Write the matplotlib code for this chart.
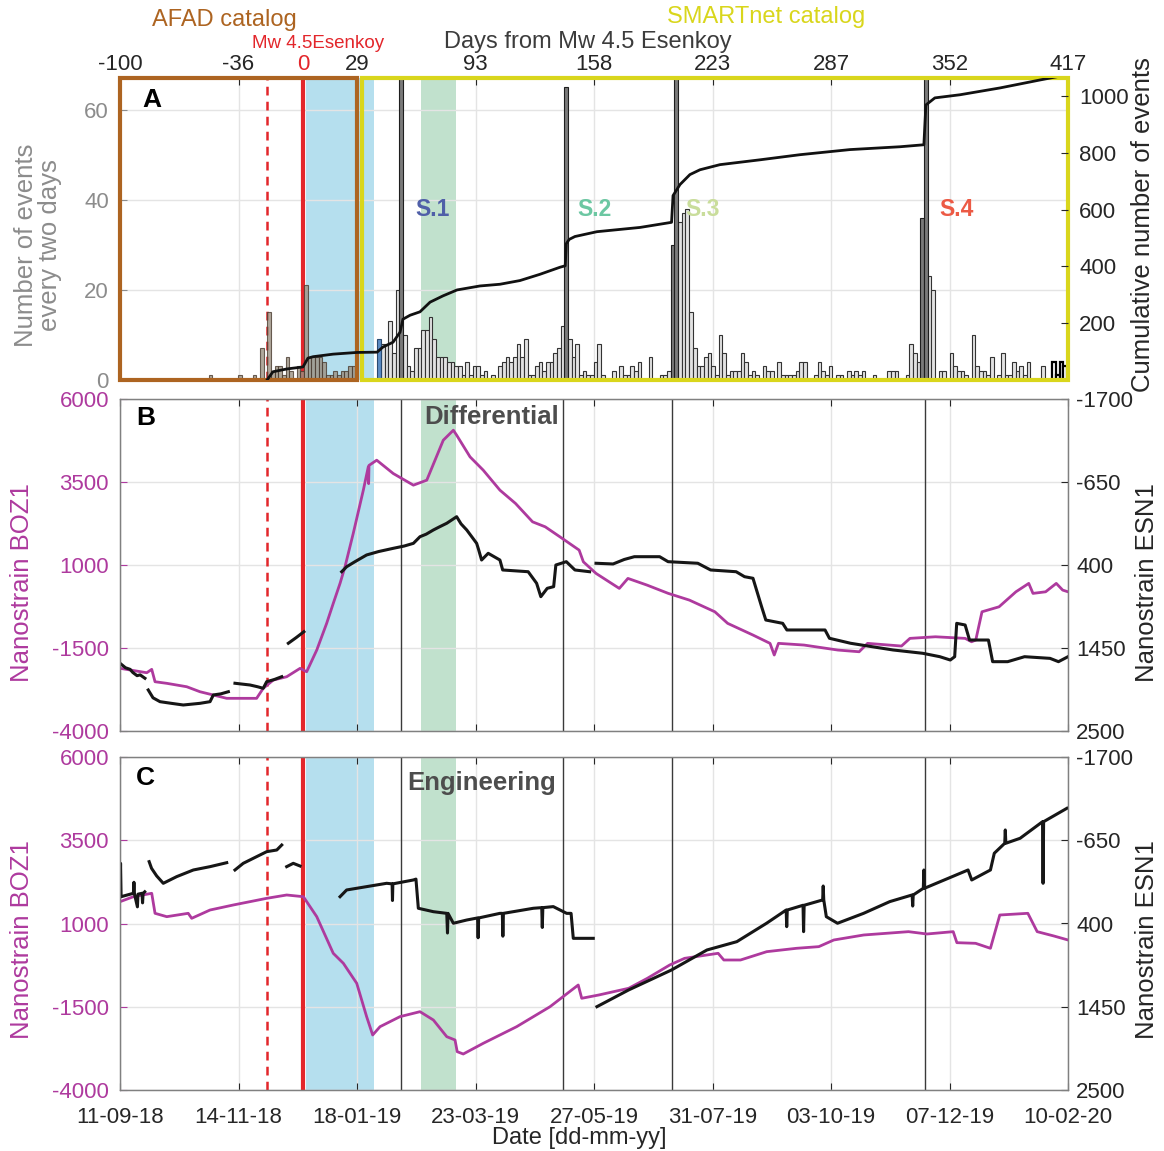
import numpy as np
import matplotlib.pyplot as plt
from matplotlib.patches import Rectangle
from matplotlib.transforms import blended_transform_factory

plt.rcParams['font.family'] = ['Liberation Sans', 'DejaVu Sans']
plt.rcParams['axes.unicode_minus'] = False

nan = np.nan

# time axis: days since 11-09-18, Mw 4.5 Esenkoy on day 100
date_labels = ['11-09-18', '14-11-18', '18-01-19', '23-03-19', '27-05-19',
               '31-07-19', '03-10-19', '07-12-19', '10-02-20']
rel_labels = ['-100', '-36', '29', '93', '158', '223', '287', '352', '417']
date_ticks = list(np.linspace(0, 517, 9))
eq_day = 100.0
fore_day = 80.2
post_span = (101.4, 138.5)
green_span = (164.1, 183.2)
swarm_days = [153.2, 241.6, 301.0, 439.0]
swarm_names = ['S.1', 'S.2', 'S.3', 'S.4']
swarm_colors = ['#4f5fa8', '#6cc7a2', '#c9dd9b', '#ec5a45']

# histogram: 2-day bins, bin k starts at BIN0 + 2k
BIN0 = 140.4
afad_bin = [-46, -38, -34, -32, -30, -29, -28, -27, -26, -25, -24, -22, -21,
            -20, -19, -18, -17, -16, -15, -14, -13, -12, -11, -10, -9, -8, -7]
afad_cnt = [1, 1, 1, 7, 15, 2, 3, 3, 1, 5, 2, 3, 2,
            21, 5, 5, 5, 5, 4, 1, 1, 2, 1, 2, 2, 3, 3]
smart_bin = [1, 2, 3, 4, 5, 7, 8, 9, 10, 11,
             12, 13, 14, 15, 16, 17, 18, 19, 20, 21,
             22, 23, 24, 25, 26, 27, 28, 29, 31, 33,
             34, 35, 36, 37, 38, 39, 40, 41, 42, 43,
             44, 45, 46, 47, 48, 49, 50, 52, 53, 54,
             55, 56, 57, 58, 59, 60, 61, 64, 66, 67,
             68, 69, 70, 71, 74, 77, 78, 79, 82, 83,
             84, 85, 86, 87, 88, 89, 90, 91, 92, 93,
             94, 95, 96, 97, 98, 99, 100, 101, 102, 103,
             105, 106, 107, 109, 110, 111, 112, 113, 114, 115,
             116, 119, 120, 121, 122, 123, 125, 126, 128, 129,
             130, 131, 132, 135, 139, 140, 141, 144, 145, 146,
             147, 150, 151, 153, 154, 156, 157, 158, 159, 160,
             162, 163, 164, 165, 166, 167, 169, 170, 171, 172,
             173, 174, 175, 176, 177, 181]
smart_cnt = [8, 8, 13, 6, 20, 10, 3, 2, 7, 7,
             11, 11, 14, 9, 5, 5, 5, 4, 4, 3,
             3, 1, 4, 1, 3, 3, 1, 2, 1, 3,
             4, 5, 4, 5, 8, 5, 9, 1, 1, 3,
             4, 2, 4, 4, 6, 7, 12, 9, 5, 8,
             1, 2, 1, 1, 4, 8, 1, 2, 3, 1,
             1, 3, 2, 4, 5, 1, 1, 2, 35, 37,
             38, 15, 7, 3, 3, 5, 6, 3, 1, 10,
             6, 1, 2, 2, 2, 6, 4, 1, 2, 1,
             3, 2, 2, 4, 1, 1, 1, 1, 2, 4,
             4, 1, 4, 2, 1, 3, 1, 1, 2, 1,
             2, 1, 2, 1, 2, 2, 2, 1, 8, 6,
             4, 23, 20, 2, 2, 6, 3, 2, 2, 1,
             10, 3, 2, 2, 1, 5, 1, 6, 1, 1,
             4, 2, 3, 1, 4, 3]
peak_bin = [6, 51, 80, 81, 148, 149]
peak_cnt = [80, 65, 30, 80, 36, 80]
first_bin = [0]
first_cnt = [9]
tail_bin = [184, 185, 186, 187]
tail_cnt = [4, 1, 4, 3]

# cumulative number of events
cum_day = [80.2, 83.4, 91.1, 99.8, 102.5, 105.3, 116.2, 129.2, 140.2, 143.4,
           148.9, 152.7, 154.3, 158.2, 163.6, 169.1, 176.1, 183.8, 196.3, 207.2,
           218.1, 229.0, 240.0, 242.8, 243.4, 245.0, 248.1, 260.1, 283.6, 300.8,
           301.6, 305.4, 310.8, 316.3, 327.2, 349.0, 370.8, 398.1, 425.4, 438.4,
           439.5, 444.4, 458.1, 479.9, 501.7, 517.0]
cum_val = [0, 29, 39, 46, 77, 82, 91, 97, 98, 116,
           133, 168, 214, 228, 240, 274, 296, 317, 331, 337,
           350, 372, 397, 402, 480, 495, 505, 522, 537, 555,
           649, 688, 723, 740, 758, 775, 793, 811, 821, 828,
           968, 993, 1004, 1028, 1056, 1075]

# panel B (differential)
boz_b_day = [0, 14.6, 17.3, 19.1, 25.5, 36.4, 43.6, 50.9, 58.2, 65.4,
             74.5, 78.1, 83.6, 90.9, 98.2, 101.8, 107.3, 112.7, 116.3, 120.0,
             122.7, 127.2, 132.7, 135.4, 135.6, 135.8, 140.0, 149.0, 160.0, 167.3,
             176.3, 181.8, 183.6, 190.9, 198.1, 207.2, 215.7, 225.0, 231.9, 241.2,
             250.4, 252.7, 259.6, 272.3, 277.0, 287.4, 299.0, 310.5, 324.4, 331.4,
             345.2, 354.5, 356.8, 359.1, 373.0, 391.5, 403.1, 407.7, 426.2, 430.8,
             444.7, 460.9, 464.4, 466.7, 470.1, 479.4, 488.6, 495.6, 497.9, 504.8,
             510.6, 514.1, 517]
boz_b_val = [-2112, -2245, -2143, -2516, -2564, -2667, -2817, -2916, -3016, -3016,
             -3016, -2715, -2465, -2366, -2113, -2215, -1562, -758, -157, 446,
             946, 1951, 3254, 3956, 3450, 4000, 4157, 3756, 3405, 3555,
             4759, 5060, 4910, 4257, 3856, 3254, 2854, 2300, 2150, 1800,
             1448, 1096, 747, 295, 596, 395, 145, -57, -409, -758,
             -1110, -1360, -1712, -1360, -1411, -1562, -1613, -1360, -1441, -1210,
             -1162, -1210, -1312, -1261, -409, -259, 193, 446, 145, 193,
             446, 244, 193]
esn_b_day = [0, 3, 5.5, 7, 9.3, 11, 13.6, nan,
             15.4, 18, 21.8, 28, 34.5, 43.6, 49.1, 50.9, 55, 59.1, nan,
             62.7, 66, 70.9, 75, 78.1, 80.0, 84, 88.2, nan,
             91.8, 96, 100.3, nan,
             120.9, 123.6, 128, 134.5, 141, 149.0, 155, 160.0, 163.6, 167,
             170.9, 174, 178.2, 183.6, 186, 189.1, 194.5, 195.5, 197.2, 200.8,
             207.2, 208.7, 222.6, 227.2, 229.5, 233.0, 236.5, 237.7, 243.4, 248.1,
             256.1, nan,
             259.6, 268.9, 275, 280.5, 294.3, 298.9, 315.1, 322.1, 336.0, 340.6,
             345.2, 349.9, 352.2, 361.4, 363.7, 373.0, 384.5, 386.9, 398.4, 410.0,
             421.6, 437.8, 447.1, 452.8, 455.2, 456.3, 460.9, 463.3, 473.6, 475.9,
             484.1, 493.3, 507.2, 511.8, 517]
esn_b_val = [1643, 1700, 1720, 1760, 1800, 1790, 1833, nan,
             1981, 2080, 2129, 2150, 2171, 2150, 2129, 2044, 2030, 2003, nan,
             1896, 1905, 1918, 1940, 1960, 1876, 1850, 1813, nan,
             1390, 1320, 1244, nan,
             485, 422, 360, 273, 230, 189, 160, 126, 42, 10,
             -43, -80, -128, -211, -120, -43, 126, 200, 337, 252,
             337, 463, 485, 631, 801, 695, 674, 400, 358, 463,
             485, nan,
             378, 387, 330, 295, 295, 358, 378, 463, 485, 548,
             568, 927, 1096, 1138, 1222, 1222, 1222, 1327, 1390, 1433,
             1475, 1517, 1560, 1602, 1560, 1138, 1159, 1349, 1349, 1623,
             1623, 1560, 1581, 1623, 1560]

# panel C (engineering)
boz_c_day = [0, 7.3, 17.3, 19.1, 25.5, 37.2, 39.1, 49.1, 61.8, 80.0,
             90.9, 100.0, 107.3, 116.3, 121.8, 129.1, 134.5, 137.8, 141.8, 152.7,
             163.6, 170.9, 178.2, 182.7, 183.9, 187.2, 198.1, 216.3, 234.5, 249.9,
             251.8, 261.1, 277.4, 287.6, 299.8, 307.9, 326.2, 329.3, 338.4, 352.7,
             368.9, 381.1, 389.3, 405.6, 430.0, 440.1, 454.4, 456.4, 466.6, 474.7,
             479.8, 495.1, 500.2, 509.3, 517]
boz_c_val = [1655, 1805, 1907, 1306, 1205, 1306, 1156, 1405, 1556, 1756,
             1856, 1805, 1205, 105, -195, -796, -1797, -2348, -2099, -1797,
             -1648, -1898, -2399, -2498, -2849, -2919, -2598, -2099, -1499, -847,
             -1246, -1147, -946, -646, -246, -46, 105, -96, -96, 154,
             255, 305, 505, 655, 755, 685, 755, 424, 405, 255,
             1255, 1306, 755, 625, 505]
esn_c_day = [0, 0.3, 0.6, 4, 7.3, 7.6, 7.9, 9.5, 9.8, 12, 12.3, 12.6, 13.5, nan,
             15.9, 17.2, 20, 23.6, 30.9, 40.0, 49.1, 58.2, nan,
             62.7, 67.2, 74.5, 80.0, 85.5, 88.2, nan,
             90.9, 94.5, 98.2, nan,
             120.0, 123.6, 134.5, 145.4, 148.4, 148.6, 148.8, 160.0, 161.4, 162.7,
             170.9, 178.2, 178.6, 178.9, 181.8, 189.1, 195.0, 195.3, 195.6, 207.2,
             208.5, 208.8, 209.1, 225.4, 230.0, 230.3, 230.6, 236.3, 243.6, 246.0,
             247.2, 258.1, nan,
             260.1, 277.4, 300.8, 320.1, 336.4, 352.6, 363.3, 363.6, 363.9, 372.5,
             372.8, 373.1, 383.2, 383.5, 383.8, 385.2, 391.3, 405.5, 419.8, 432.0,
             432.3, 432.6, 438.1, 438.4, 438.7, 462.5, 464.5, 474.7, 476.8, 482.5,
             482.8, 483.1, 490.9, 503.1, 503.4, 503.7, 516.4]
esn_c_val = [62, -359, 62, 40, 19, -120, 30, 190, 30, 19, 140, 19, 0, nan,
             -380, -296, -200, -107, -191, -275, -317, -367, nan,
             -275, -359, -443, -506, -527, -590, nan,
             -317, -359, -325, nan,
             62, -23, -65, -107, -100, 110, -100, -149, -160, 208,
             251, 272, 520, 272, 397, 356, 330, 580, 330, 272,
             272, 560, 272, 208, 200, 450, 200, 187, 272, 272,
             587, 587, nan,
             1449, 1238, 986, 734, 629, 397, 230, 440, 230, 170,
             503, 170, 103, -73, 103, 314, 397, 272, 124, 40,
             180, 40, -44, -275, -44, -275, -149, -275, -486, -612,
             -780, -612, -675, -884, -107, -884, -1053]

RED = '#e3262b'
BLUE = '#b5dfee'
GREEN = '#c1e1cd'
BROWN = '#ad6421'
YELLOW = '#d9d61c'
MAG = '#ae3a9e'
GRAY = '#8c8c8c'
DARK = '#262626'
TS = 16     # tick label size
LS = 18.5   # axis label size

W, H = 1164, 1151
fig = plt.figure(figsize=(W / 100, H / 100), dpi=100)


def rect(x0, y0, x1, y1):
    return [x0 / W, 1 - y1 / H, (x1 - x0) / W, (y1 - y0) / H]


def ftext(x, y, s, **kw):
    fig.text(x / W, 1 - y / H, s, **kw)


axA = fig.add_axes(rect(120, 78, 1068, 380))
axB = fig.add_axes(rect(120, 399, 1068, 731))
axC = fig.add_axes(rect(120, 757, 1068, 1090))


def decorate(ax, swarm_lines=True):
    ax.axvspan(*post_span, color=BLUE, lw=0, zorder=0)
    ax.axvspan(*green_span, color=GREEN, lw=0, zorder=0)
    if swarm_lines:
        for d in swarm_days:
            ax.axvline(d, color='#3a3a3a', lw=1, zorder=1)
    ax.axvline(fore_day, color=RED, ls=(0, (3.5, 2.5)), lw=1.8, zorder=1.5)
    ax.axvline(eq_day, color=RED, lw=3, zorder=1.5)
    ax.set_xlim(0, 517)
    ax.grid(True, color='#e4e4e4', lw=1)
    ax.set_axisbelow(True)


# ---------------- panel A ----------------
decorate(axA, swarm_lines=False)


def bars(bins, counts, **kw):
    left = [BIN0 + 2 * k for k in bins]
    axA.bar(left, counts, width=2, align='edge', zorder=2, **kw)


bars(afad_bin, afad_cnt, color='#9c9283', edgecolor='#4a3c30', lw=0.8, alpha=0.8)
bars(smart_bin, smart_cnt, color='#e2e2e2', edgecolor='#333333', lw=0.8)
bars(peak_bin, peak_cnt, color='#7a7a7a', edgecolor='#1e1e1e', lw=0.8)
bars(first_bin, first_cnt, color='#5b8cc4', edgecolor='#2a4a70', lw=0.8)
bars(tail_bin, tail_cnt, color='white', edgecolor='black', lw=1.6)

axA.set_ylim(0, 67)
axA.set_yticks([0, 20, 40, 60])
axA.tick_params(axis='y', direction='in', length=5, labelsize=TS,
                colors=GRAY, pad=8)
axA.xaxis.tick_top()
axA.set_xticks(date_ticks + [eq_day], rel_labels + ['0'])
axA.tick_params(axis='x', direction='in', length=5, labelsize=TS,
                colors=DARK, pad=2)
axA.get_xticklabels()[-1].set_color(RED)
for s in axA.spines.values():
    s.set_visible(False)

axAr = axA.twinx()
axAr.plot(cum_day, cum_val, color='#111111', lw=2, zorder=4)
axAr.set_ylim(0, 1063)
axAr.set_yticks([200, 400, 600, 800, 1000])
axAr.tick_params(axis='y', direction='in', length=5, labelsize=TS,
                 colors=DARK, pad=8)
for s in axAr.spines.values():
    s.set_visible(False)

trA = blended_transform_factory(axA.transData, axA.transAxes)
axA.add_patch(Rectangle((0, 0), 129.25, 1, transform=trA, fill=False,
                        edgecolor=BROWN, lw=3, clip_on=False, zorder=6))
axA.add_patch(Rectangle((131.8, 0), 517 - 131.8, 1, transform=trA, fill=False,
                        edgecolor=YELLOW, lw=3, clip_on=False, zorder=6))

for name, col, d in zip(swarm_names, swarm_colors, swarm_days):
    axA.text(d + 17, 37.8, name, color=col, fontsize=16.5, fontweight='bold',
             ha='center', va='center', zorder=7)

ftext(152, 100, 'A', fontsize=19, fontweight='bold', ha='center', va='center')
ftext(224, 20, 'AFAD catalog', color=BROWN, fontsize=17, ha='center', va='center')
ftext(766, 17, 'SMARTnet catalog', color=YELLOW, fontsize=17, ha='center', va='center')
ftext(318, 44, 'Mw 4.5Esenkoy', color=RED, fontsize=13.5, ha='center', va='center')
ftext(588, 42, 'Days from Mw 4.5 Esenkoy', color='#3c3c3c', fontsize=17,
      ha='center', va='center')
ftext(38, 245, 'Number of events\nevery two days', color=GRAY, fontsize=LS,
      rotation=90, ha='center', va='center', linespacing=1.0)
ftext(1143, 225, 'Cumulative number of events', color=DARK, fontsize=LS,
      rotation=90, ha='center', va='center')


# ---------------- panels B and C ----------------
def strain_panel(ax, boz_d, boz_v, esn_d, esn_v, bottom):
    decorate(ax)
    ax.plot(boz_d, boz_v, color=MAG, lw=2, zorder=3)
    ax.set_ylim(-4000, 6000)
    ax.set_yticks([-4000, -1500, 1000, 3500, 6000])
    ax.set_xticks(date_ticks)
    ax.tick_params(axis='y', direction='in', length=5, labelsize=TS,
                   colors=MAG, pad=8)
    ax.tick_params(axis='x', direction='in', length=5, labelsize=TS,
                   colors=DARK, top=True, labelbottom=bottom, pad=12)
    axr = ax.twinx()
    axr.plot(esn_d, esn_v, color='#161616', lw=2.2)
    axr.set_ylim(2500, -1700)
    axr.set_yticks([-1700, -650, 400, 1450, 2500])
    axr.tick_params(axis='y', direction='in', length=5, labelsize=TS,
                    colors=DARK, pad=6)
    for a in (ax, axr):
        for s in a.spines.values():
            s.set_color('#808080')
            s.set_linewidth(0.9)
    if bottom:
        ax.set_xticklabels(date_labels)
    return axr


strain_panel(axB, boz_b_day, boz_b_val, esn_b_day, esn_b_val, False)
strain_panel(axC, boz_c_day, boz_c_val, esn_c_day, esn_c_val, True)

ftext(146, 418, 'B', fontsize=19, fontweight='bold', ha='center', va='center')
ftext(145, 778, 'C', fontsize=19, fontweight='bold', ha='center', va='center')
ftext(492, 417, 'Differential', color='#4d4d4d', fontsize=18.5,
      fontweight='bold', ha='center', va='center')
ftext(482, 783, 'Engineering', color='#4d4d4d', fontsize=18.5,
      fontweight='bold', ha='center', va='center')

ftext(22, 583, 'Nanostrain BOZ1', color=MAG, fontsize=LS, rotation=90,
      ha='center', va='center')
ftext(22, 940, 'Nanostrain BOZ1', color=MAG, fontsize=LS, rotation=90,
      ha='center', va='center')
ftext(1147, 583, 'Nanostrain ESN1', color=DARK, fontsize=LS, rotation=90,
      ha='center', va='center')
ftext(1147, 940, 'Nanostrain ESN1', color=DARK, fontsize=LS, rotation=90,
      ha='center', va='center')
ftext(579, 1138, 'Date [dd-mm-yy]', color=DARK, fontsize=17, ha='center', va='center')

fig.savefig('out.png', dpi=100)
